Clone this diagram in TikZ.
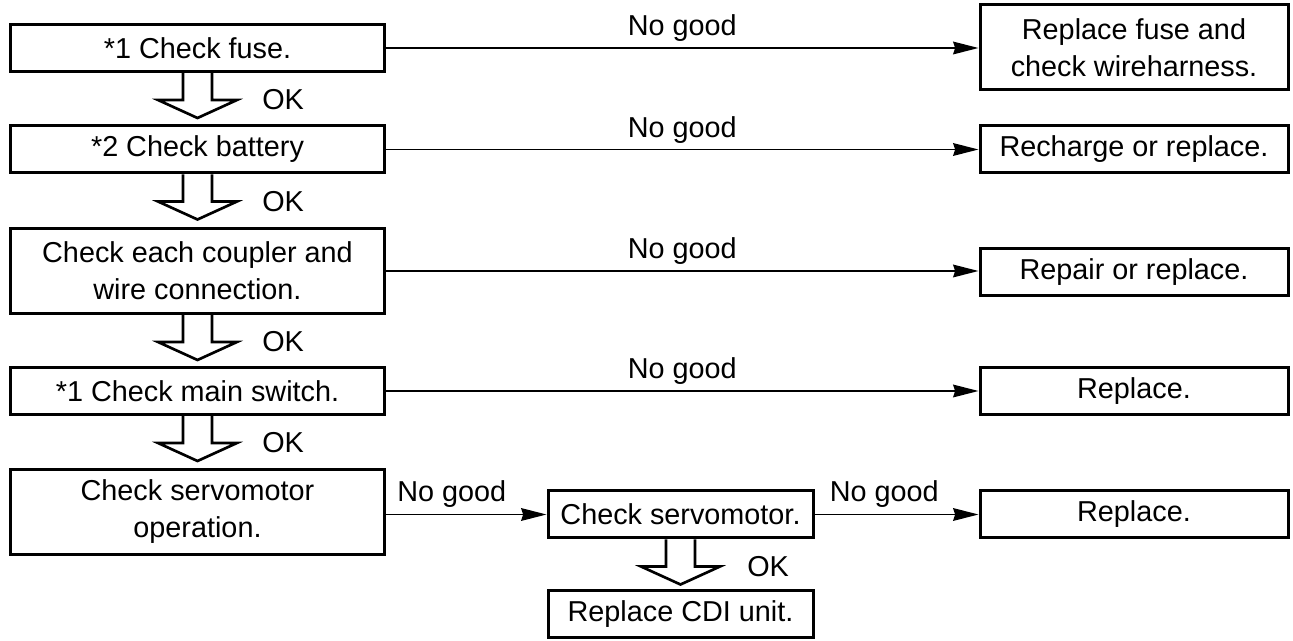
\documentclass[tikz,border=0pt]{standalone}
\usepackage{fontspec}
\setmainfont{Liberation Sans}
\usetikzlibrary{arrows.meta,calc}
\newcommand\fsz{\fontsize{21.6pt}{27.75pt}\selectfont}
\newcommand\holarrow[1]{\draw[hollow] ($(#1)+(-14.5,0)$) -- ++(0,27) -- ++(-25,0) -- ++(39.5,18) -- ++(39.5,-18) -- ++(-25,0) -- ++(0,-27);}
\begin{document}
\begin{tikzpicture}[x=0.75pt,y=-0.75pt,
  box/.style={draw,line width=2.25pt,inner sep=0pt,align=center,font=\fsz,minimum height=35.25pt},
  dbox/.style={box,minimum height=63.75pt},
  lw/.style={minimum width=280.5pt},
  rw/.style={minimum width=231pt},
  sw/.style={minimum width=198.75pt},
  conn/.style={line width=1.3pt,-{Stealth[length=19pt,width=9.5pt,inset=1.5pt]}},
  hollow/.style={line width=2pt,line join=miter},
  lbl/.style={font=\fsz,inner sep=0pt},
  ng/.style={lbl,midway,anchor=base,yshift=9pt}]
\useasboundingbox (0,0) rectangle (1293,641);
% left column
\node[box,lw]  (L1) at (197.5,48)  {*1 Check fuse.};
\node[box,lw]  (L2) at (197.5,149.5) {*2 Check battery};
\node[dbox,lw] (L3) at (197.5,271) {Check each coupler and\\wire connection.};
\node[box,lw]  (L4) at (197.5,391) {*1 Check main switch.};
\node[dbox,lw] (L5) at (197.5,512) {Check servomotor\\operation.};
% right column
\node[dbox,rw] (R1) at (1134,47.5) {Replace fuse and\\check wireharness.};
\node[box,rw]  (R2) at (1134,149.5) {Recharge or replace.};
\node[box,rw]  (R3) at (1134,272) {Repair or replace.};
\node[box,rw]  (R4) at (1134,391) {Replace.};
\node[box,rw]  (R5) at (1134,514.5) {Replace.};
% middle
\node[box,sw]  (S) at (680.5,514.5) {Check servomotor.};
\node[box,sw]  (C) at (680.5,614) {Replace CDI unit.};
% horizontal connectors
\draw[conn] (L1.east) -- (L1.east -| R1.west) node[ng] (ng1) {No good};
\draw[conn] (L2.east) -- (L2.east -| R2.west) node[ng] (ng2) {No good};
\draw[conn] (L3.east) -- (L3.east -| R3.west) node[ng] (ng3) {No good};
\draw[conn] (L4.east) -- (L4.east -| R4.west) node[ng] (ng4) {No good};
\coordinate (L5o) at (L5.east |- S.west);
\draw[conn] (L5o) -- (S.west);
\node[lbl,anchor=base west] (ng5) at ($(L5o)+(11,-13)$) {No good};
\draw[conn] (S.east) -- (R5.west);
\node[lbl,anchor=base west] (ng6) at ($(S.east)+(15,-13)$) {No good};
% hollow arrows
\holarrow{L1.south}
\holarrow{L2.south}
\holarrow{L3.south}
\holarrow{L4.south}
\holarrow{S.south}
\node[lbl,anchor=west] (ok1) at ($(L1.south)+(64.5,27)$) {OK};
\node[lbl,anchor=west] (ok2) at ($(L2.south)+(64.5,27)$) {OK};
\node[lbl,anchor=west] (ok3) at ($(L3.south)+(64.5,27)$) {OK};
\node[lbl,anchor=west] (ok4) at ($(L4.south)+(64.5,27)$) {OK};
\node[lbl,anchor=west] (ok5) at ($(S.south)+(66.5,27)$) {OK};
\end{tikzpicture}
\end{document}
